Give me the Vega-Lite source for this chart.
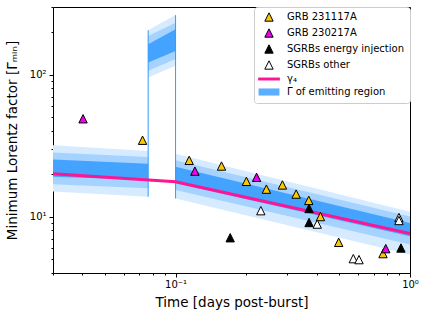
{
  "$schema": "https://vega.github.io/schema/vega-lite/v6.json",
  "width": 357,
  "height": 266,
  "autosize": {"type": "none"},
  "padding": {"left": 53, "top": 7, "right": 19, "bottom": 44},
  "config": {
    "font": "DejaVu Sans",
    "view": {"stroke": "#000000", "strokeWidth": 1},
    "axis": {"domain": false, "grid": false, "labelColor": "#000000", "titleColor": "#000000", "tickColor": "#000000", "titleFontWeight": "normal", "labelFontSize": 10, "titleFontSize": 13.5, "tickWidth": 1, "labelOverlap": false, "labelFlush": false}
  },
  "datasets": {
    "band": [
      {"seg": "a", "t": 0.03, "l1": 15.0, "h1": 31.8, "l2": 16.9, "h2": 28.3, "l3": 19.1, "h3": 25.2},
      {"seg": "a", "t": 0.0764, "l1": 13.8, "h1": 29.0, "l2": 15.8, "h2": 26.3, "l3": 18.1, "h3": 23.6},
      {"seg": "b", "t": 0.0764, "l1": 95.7, "h1": 205.7, "l2": 106.7, "h2": 187.5, "l3": 122, "h3": 164},
      {"seg": "b", "t": 0.1, "l1": 115.7, "h1": 263, "l2": 129, "h2": 232, "l3": 147, "h3": 209},
      {"seg": "c", "t": 0.1, "l1": 13.4, "h1": 27.7, "l2": 15.4, "h2": 24.9, "l3": 17.2, "h3": 22.4},
      {"seg": "c", "t": 1, "l1": 5.4, "h1": 10.8, "l2": 6.34, "h2": 10.0, "l3": 7.25, "h3": 9.0}
    ],
    "edges": [
      {"t": 0.0764, "lo": 13.8, "hi": 205.7},
      {"t": 0.1, "lo": 13.4, "hi": 263}
    ],
    "gamma": [
      {"t": 0.03, "g": 20.0},
      {"t": 0.1, "g": 17.6},
      {"t": 1, "g": 7.6}
    ],
    "pts": [
      {"series": "SGRBs energy injection", "t": 0.171, "G": 7.09},
      {"series": "SGRBs energy injection", "t": 0.371, "G": 11.4},
      {"series": "SGRBs energy injection", "t": 0.371, "G": 9.08},
      {"series": "SGRBs energy injection", "t": 0.915, "G": 6.0},
      {"series": "SGRBs other", "t": 0.231, "G": 11.0},
      {"series": "SGRBs other", "t": 0.402, "G": 8.85},
      {"series": "SGRBs other", "t": 0.573, "G": 5.05},
      {"series": "SGRBs other", "t": 0.606, "G": 4.97},
      {"series": "SGRBs other", "t": 0.897, "G": 9.84},
      {"series": "SGRBs other", "t": 0.897, "G": 9.38},
      {"series": "GRB 231117A", "t": 0.0723, "G": 34.5},
      {"series": "GRB 231117A", "t": 0.1143, "G": 24.9},
      {"series": "GRB 231117A", "t": 0.157, "G": 22.7},
      {"series": "GRB 231117A", "t": 0.2005, "G": 17.7},
      {"series": "GRB 231117A", "t": 0.244, "G": 15.6},
      {"series": "GRB 231117A", "t": 0.2856, "G": 16.7},
      {"series": "GRB 231117A", "t": 0.3268, "G": 14.4},
      {"series": "GRB 231117A", "t": 0.37, "G": 13.0},
      {"series": "GRB 231117A", "t": 0.415, "G": 10.0},
      {"series": "GRB 231117A", "t": 0.4964, "G": 6.58},
      {"series": "GRB 231117A", "t": 0.767, "G": 5.48},
      {"series": "GRB 230217A", "t": 0.0403, "G": 48.9},
      {"series": "GRB 230217A", "t": 0.1209, "G": 20.9},
      {"series": "GRB 230217A", "t": 0.2216, "G": 18.9},
      {"series": "GRB 230217A", "t": 0.788, "G": 5.94}
    ]
  },
  "encoding": {
    "x": {"field": "t", "type": "quantitative", "scale": {"type": "log", "domain": [0.03, 1], "nice": false, "zero": false},
      "axis": {"title": "Time [days post-burst]",
        "values": [0.03, 0.04, 0.05, 0.06, 0.07, 0.08, 0.09, 0.1, 0.2, 0.3, 0.4, 0.5, 0.6, 0.7, 0.8, 0.9, 1],
        "labelExpr": "datum.value == 0.1 ? '10⁻¹' : (datum.value == 1 ? '10⁰' : '')",
        "tickSize": {"condition": {"test": "datum.value == 0.1 || datum.value == 1", "value": 4}, "value": 2},
        "labelPadding": 2, "titlePadding": 6}}
  },
  "layer": [
    {
      "data": {"name": "band"},
      "mark": {"type": "area", "color": "#d6ebff", "clip": true},
      "encoding": {
        "y": {"field": "l1", "type": "quantitative", "scale": {"type": "log", "domain": [4, 300], "nice": false, "zero": false},
          "axis": {"title": "Minimum Lorentz factor [Γₘᵢₙ]",
            "values": [4, 5, 6, 7, 8, 9, 10, 20, 30, 40, 50, 60, 70, 80, 90, 100, 200, 300],
            "labelExpr": "datum.value == 10 ? '10¹' : (datum.value == 100 ? '10²' : '')",
            "tickSize": {"condition": {"test": "datum.value == 10 || datum.value == 100", "value": 4}, "value": 2},
            "labelPadding": 3, "titlePadding": 10}},
        "y2": {"field": "h1"},
        "detail": {"field": "seg"}
      }
    },
    {
      "data": {"name": "band"},
      "mark": {"type": "area", "color": "#a6d2ff", "clip": true},
      "encoding": {
        "y": {"field": "l2", "type": "quantitative", "title": "Minimum Lorentz factor [Γₘᵢₙ]"},
        "y2": {"field": "h2"},
        "detail": {"field": "seg"}
      }
    },
    {
      "data": {"name": "band"},
      "mark": {"type": "area", "color": "#44a3ff", "clip": true},
      "encoding": {
        "y": {"field": "l3", "type": "quantitative", "title": "Minimum Lorentz factor [Γₘᵢₙ]"},
        "y2": {"field": "h3"},
        "detail": {"field": "seg"}
      }
    },
    {
      "data": {"name": "edges"},
      "mark": {"type": "rule", "color": "#3399ff", "strokeWidth": 1, "clip": true},
      "encoding": {
        "y": {"field": "lo", "type": "quantitative", "title": "Minimum Lorentz factor [Γₘᵢₙ]"},
        "y2": {"field": "hi"}
      }
    },
    {
      "data": {"name": "gamma"},
      "mark": {"type": "line", "color": "#ff1493", "strokeWidth": 3, "clip": true},
      "encoding": {
        "y": {"field": "g", "type": "quantitative", "title": "Minimum Lorentz factor [Γₘᵢₙ]"}
      }
    },
    {
      "data": {"name": "pts"},
      "mark": {"type": "point", "size": 70, "strokeWidth": 1, "opacity": 1, "clip": true},
      "encoding": {
        "y": {"field": "G", "type": "quantitative", "title": "Minimum Lorentz factor [Γₘᵢₙ]"},
        "fill": {"field": "series", "type": "nominal",
          "scale": {"domain": ["GRB 231117A", "GRB 230217A", "SGRBs energy injection", "SGRBs other", "γ₄", "Γ of emitting region"],
            "range": ["#fcc800", "#f000f0", "#000000", "#ffffff", "#ff1493", "#5caeff"]},
          "legend": {"title": null, "orient": "top-right", "offset": 0, "padding": 5, "fillColor": "#ffffff", "strokeColor": "#cccccc", "cornerRadius": 3,
            "labelFontSize": 10, "labelColor": "#000000", "symbolSize": 70, "symbolOffset": 5, "labelOffset": 13, "rowPadding": 2, "symbolStrokeWidth": 1}},
        "stroke": {"field": "series", "type": "nominal",
          "scale": {"domain": ["GRB 231117A", "GRB 230217A", "SGRBs energy injection", "SGRBs other", "γ₄", "Γ of emitting region"],
            "range": ["#000000", "#000000", "#000000", "#000000", "transparent", "transparent"]}},
        "shape": {"field": "series", "type": "nominal",
          "scale": {"domain": ["GRB 231117A", "GRB 230217A", "SGRBs energy injection", "SGRBs other", "γ₄", "Γ of emitting region"],
            "range": ["M0,-1L-1,1L1,1Z", "M0,-1L-1,1L1,1Z", "M0,-1L-1,1L1,1Z", "M0,-1L-1,1L1,1Z", "M-2.6,-0.35L2.6,-0.35L2.6,0.35L-2.6,0.35Z", "M-2.5,-0.85L2.5,-0.85L2.5,0.85L-2.5,0.85Z"]}}
      }
    }
  ]
}
